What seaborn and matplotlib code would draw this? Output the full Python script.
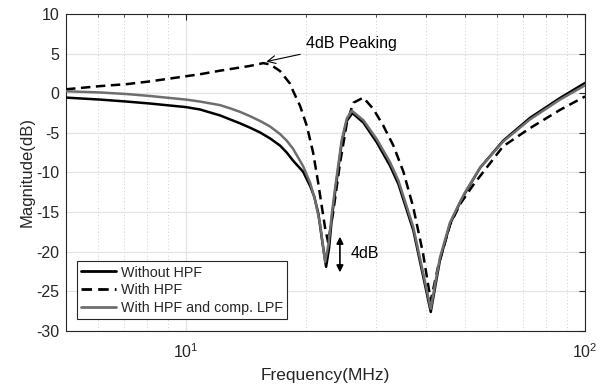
import numpy as np
import pandas as pd
import matplotlib
matplotlib.use("Agg")
import matplotlib.pyplot as plt
from matplotlib.ticker import FixedLocator, NullFormatter, FixedFormatter
import seaborn as sns

# ---- data ----
freq_no_hpf = [5.00, 6.09, 7.10, 8.13, 10.0, 10.84, 12.17, 12.89, 13.66, 14.47, 15.33, 16.24,
               17.20, 17.89, 18.54, 19.65, 20.46, 20.94, 21.46, 21.92, 22.44, 22.83, 23.22,
               23.63, 24.56, 25.28, 26.11, 27.82, 30.06, 32.45, 34.05, 37.12, 39.33, 41.05,
               42.6, 43.31, 45.88, 48.61, 50.04, 54.58, 62.32, 72.81, 86.56, 100.0]
db_no_hpf = [-0.55, -0.8, -1.05, -1.3, -1.75, -2.05, -2.8, -3.3, -3.8, -4.35, -4.95, -5.7,
             -6.6, -7.5, -8.5, -9.9, -11.7, -13.0, -15.2, -18.5, -21.9, -19.5, -15.5,
             -12.5, -6.2, -3.5, -2.5, -3.7, -6.2, -9.15, -11.45, -17.3, -23.2, -27.6,
             -23.0, -21.0, -16.5, -13.8, -12.6, -9.4, -6.0, -3.1, -0.6, 1.3]

freq_hpf = [5.00, 6.09, 7.10, 8.13, 10.84, 12.17, 14.47, 15.60, 16.24, 17.20, 18.23, 18.54,
            19.31, 20.07, 20.82, 21.42, 21.92, 22.31, 22.70, 23.36, 24.32, 25.28, 26.26,
            27.82, 29.48, 31.22, 33.08, 35.05, 37.07, 39.26, 41.05, 42.81, 45.88, 48.61,
            52.41, 62.32, 72.81, 86.56, 100.0]
db_hpf = [0.5, 0.9, 1.15, 1.5, 2.4, 2.85, 3.45, 3.8, 3.65, 2.8, 1.2, 0.3,
          -1.6, -4.1, -7.5, -11.2, -14.5, -17.0, -18.8, -15.1, -8.8, -3.8, -1.2,
          -0.55, -2.0, -4.1, -6.6, -9.9, -14.3, -20.2, -26.2, -21.9, -16.6, -14.0,
          -11.6, -6.7, -4.4, -2.1, -0.4]

freq_comp = [5.00, 6.09, 7.10, 8.13, 10.0, 10.84, 12.17, 12.89, 13.66, 14.47, 15.33, 16.24,
             17.20, 17.89, 18.54, 19.65, 20.46, 21.06, 21.67, 22.31, 22.76, 23.22, 23.63,
             24.56, 25.28, 26.02, 27.82, 30.06, 32.45, 34.05, 37.12, 39.33, 41.05, 42.6,
             43.31, 45.88, 48.61, 50.04, 54.58, 62.32, 72.81, 86.56, 100.0]
db_comp = [0.25, 0.1, -0.1, -0.35, -0.8, -1.05, -1.5, -1.9, -2.35, -2.9, -3.5, -4.2,
           -5.15, -6.0, -7.0, -9.2, -11.3, -13.5, -16.5, -21.3, -19.0, -15.0, -12.0,
           -5.9, -3.2, -2.2, -3.4, -5.8, -8.7, -11.0, -16.9, -22.8, -27.2, -22.6,
           -20.7, -16.3, -13.7, -12.5, -9.4, -6.1, -3.3, -0.8, 1.0]

series_names = ["Without HPF", "With HPF", "With HPF and comp. LPF"]
yticks = [10, 5, 0, -5, -10, -15, -20, -25, -30]

# ---- style ----
sns.set_theme(style="white")
plt.rcParams["font.family"] = ["Liberation Sans", "DejaVu Sans"]
plt.rcParams["mathtext.fontset"] = "custom"
plt.rcParams["mathtext.rm"] = "Liberation Sans"
plt.rcParams["mathtext.it"] = "Liberation Sans"

fig = plt.figure(figsize=(6.07, 3.90), dpi=100)
ax = fig.add_axes([0.1087, 0.1513, 0.8551, 0.8128])

axc = "#262626"
lw = 1.8
df1 = pd.DataFrame({"f": freq_no_hpf, "db": db_no_hpf})
df2 = pd.DataFrame({"f": freq_hpf, "db": db_hpf})
df3 = pd.DataFrame({"f": freq_comp, "db": db_comp})
sns.lineplot(data=df1, x="f", y="db", ax=ax, color="black", lw=lw,
             label=series_names[0], estimator=None, sort=False, zorder=3)
sns.lineplot(data=df2, x="f", y="db", ax=ax, color="black", lw=lw,
             label=series_names[1], estimator=None, sort=False, zorder=3)
ax.lines[-1].set_dashes([3.8, 2.2])
sns.lineplot(data=df3, x="f", y="db", ax=ax, color="#6e6e6e", lw=lw,
             label=series_names[2], estimator=None, sort=False, zorder=4)
for ln in ax.lines:
    ln.set_solid_joinstyle("round")
    ln.set_dash_joinstyle("round")

ax.set_xscale("log")
ax.set_xlim(5, 100)
ax.set_ylim(-30, 10)
ax.set_yticks(yticks)
ax.set_yticklabels([str(t) for t in yticks])
ax.xaxis.set_major_locator(FixedLocator([10, 100]))
ax.xaxis.set_major_formatter(FixedFormatter([r"$10^{1}$", r"$10^{2}$"]))
minors = [5, 6, 7, 8, 9, 20, 30, 40, 50, 60, 70, 80, 90]
ax.xaxis.set_minor_locator(FixedLocator(minors))
ax.xaxis.set_minor_formatter(NullFormatter())

ax.grid(True, which="major", color="#e3e3e3", lw=0.9, zorder=0)
ax.grid(True, which="minor", axis="x", color="#cfcfcf", lw=0.7, ls=(0, (1, 2.5)), zorder=0)
ax.set_axisbelow(True)

for s in ax.spines.values():
    s.set_color(axc)
    s.set_linewidth(0.8)
    s.set_visible(True)
ax.tick_params(which="both", direction="in", top=True, right=True, colors=axc,
               labelcolor="#262626", labelsize=11.5)
ax.tick_params(which="major", length=4, width=0.8, pad=5)
ax.tick_params(which="minor", length=2.5, width=0.6)
ax.tick_params(axis="x", which="major", pad=8)

ax.set_xlabel("Frequency(MHz)", fontsize=12.5, color="#262626", labelpad=5)
ax.set_ylabel("Magnitude(dB)", fontsize=12, color="#262626", labelpad=1)

leg = ax.legend(loc="lower left", bbox_to_anchor=(0.021, 0.038), fontsize=10.3,
                frameon=True, fancybox=False, edgecolor=axc, framealpha=1,
                handlelength=2.45, handletextpad=0.3, borderpad=0.3, labelspacing=0.25,
                borderaxespad=0)
leg.get_frame().set_linewidth(0.8)
for h in leg.get_lines():
    h.set_linewidth(2.0)

# annotations
ax.annotate("4dB Peaking", xy=(15.9, 4.0), xytext=(20.0, 6.3), fontsize=11.5,
            va="center", ha="left", color="black",
            arrowprops=dict(arrowstyle="->", color="black", lw=0.8,
                            shrinkA=2, shrinkB=0, mutation_scale=14))
ax.annotate("", xy=(24.3, -22.6), xytext=(24.3, -18.1),
            arrowprops=dict(arrowstyle="<|-|>", color="black", lw=1.2,
                            shrinkA=0, shrinkB=0, mutation_scale=10))
ax.text(25.9, -20.2, "4dB", fontsize=11.5, va="center", ha="left", color="black")

fig.savefig("out.png", dpi=100)
